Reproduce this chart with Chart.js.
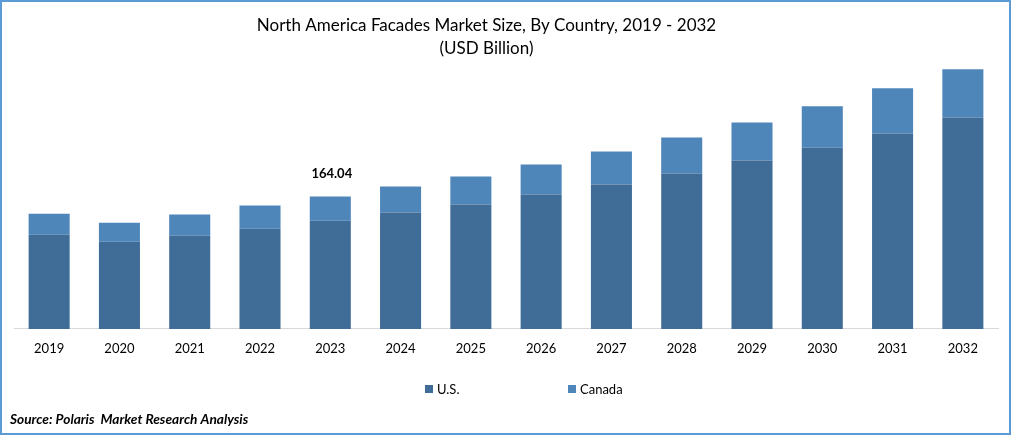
<!DOCTYPE html>
<html>
<head>
<meta charset="utf-8">
<title>North America Facades Market Size</title>
<script src="https://cdn.jsdelivr.net/npm/chart.js@4"></script>
<style>
    html, body { margin: 0; padding: 0; background: #fff; }
    #box { position: relative; width: 1011px; height: 435px; box-sizing: border-box; border: 2px solid #5B9BD5; overflow: hidden; }
    #chart { display: block; }
    .key { position: absolute; top: 378px; font: 13px Lato; color: #000; line-height: 18px; white-space: nowrap; }
    .key i { position: absolute; left: -12px; top: 5px; width: 8px; height: 8px; }
</style>
</head>
<body>
<div id="box">
    <canvas id="chart" width="1007" height="431"></canvas>
    <div class="key" style="left:435px"><i style="background:#3F6D97"></i>U.S.</div>
    <div class="key" style="left:578px"><i style="background:#4F86BA"></i>Canada</div>
</div>
<script>
const years = ["2019","2020","2021","2022","2023","2024","2025","2026","2027","2028","2029","2030","2031","2032"];
const usValues = [116.8,108.1,115.6,124.3,134.2,144.2,154.1,166.5,179.0,192.6,208.8,224.9,242.3,262.2];
const canadaValues = [26.1,23.6,26.1,28.6,29.84,32.3,34.8,37.3,41.0,44.7,47.2,51.0,55.9,59.6];
const titleLines = ["North America Facades Market Size, By Country, 2019 - 2032", "(USD Billion)"];
const sourceText = "Source: Polaris  Market Research Analysis";
const labelIndex = 4;
const labelText = "164.04";

// total label over 2023 bar
const totalLabel = {
    id: "totalLabel",
    afterDatasetsDraw(chart) {
        const bar = chart.getDatasetMeta(1).data[labelIndex];
        const ctx = chart.ctx;
        ctx.save();
        ctx.font = "bold 13px Lato";
        ctx.fillStyle = "#000";
        ctx.textAlign = "center";
        ctx.textBaseline = "middle";
        ctx.fillText(labelText, bar.x + 1.5, bar.y - 23);
        ctx.restore();
    }
};

// title sits left of centre in the original
const moveTitle = {
    id: "moveTitle",
    afterLayout(chart) {
        chart.titleBlock.left -= 17.5;
        chart.titleBlock.right -= 17.5;
    }
};

new Chart(document.getElementById("chart"), {
    type: "bar",
    data: {
        labels: years,
        datasets: [
            { label: "U.S.", data: usValues, backgroundColor: "#3F6D97" },
            { label: "Canada", data: canadaValues, backgroundColor: "#4F86BA" }
        ]
    },
    options: {
        responsive: false,
        animation: false,
        barPercentage: 0.584,
        categoryPercentage: 1,
        layout: { padding: { left: 8, right: 11, top: 0, bottom: 5 } },
        scales: {
            x: {
                stacked: true,
                grid: { display: false },
                border: { color: "#D9D9D9", width: 1 },
                ticks: { color: "#000", font: { family: "Lato", size: 13 }, padding: 4, maxRotation: 0 }
            },
            y: {
                stacked: true,
                min: 0,
                max: 326,
                grid: { display: false },
                border: { display: false },
                ticks: { display: false },
                afterFit(scale) { scale.width = 4; }
            }
        },
        plugins: {
            tooltip: { enabled: false },
            legend: { display: false },
            title: {
                display: true,
                text: titleLines,
                color: "#000",
                font: { family: "Lato", size: 17, weight: "normal", lineHeight: 1.35 },
                padding: { top: 12, bottom: 6 }
            },
            subtitle: {
                display: true,
                position: "bottom",
                align: "start",
                text: sourceText,
                color: "#000",
                font: { family: "Lato", size: 13.7, weight: "bold", style: "italic" },
                padding: { top: 51, bottom: 0 }
            }
        }
    },
    plugins: [totalLabel, moveTitle]
});
</script>
</body>
</html>
